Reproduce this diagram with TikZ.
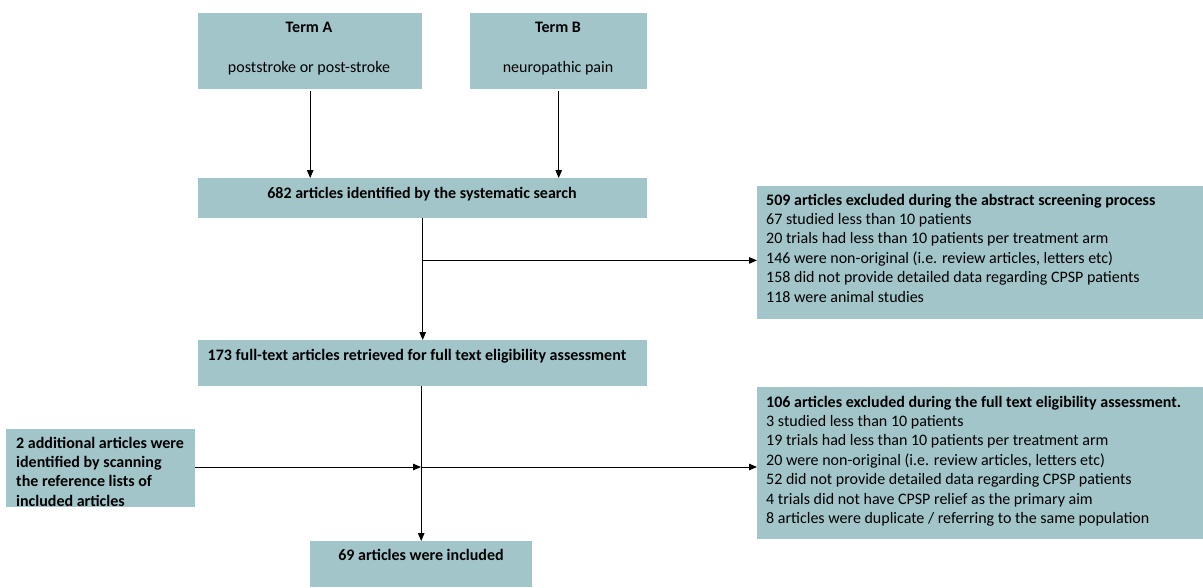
\documentclass[tikz,border=0pt]{standalone}
\usepackage{fontspec}
\setmainfont{Carlito}
\usetikzlibrary{arrows.meta,calc}
\definecolor{boxc}{RGB}{162,197,202}
\tikzset{
  box/.style={fill=boxc, draw=none, inner sep=0pt, anchor=north west},
  txt/.style={inner sep=0pt, font=\fontsize{16}{19.4}\selectfont},
  arr/.style={draw=black, line width=0.9pt, -{Triangle[length=8pt,width=6.5pt]}},
  ln/.style={draw=black, line width=0.9pt}
}
\begin{document}
\begin{tikzpicture}[x=1pt,y=-1pt]
\useasboundingbox (0,0) rectangle (1203,587);
% boxes
\node[box, minimum width=224, minimum height=76] (ta) at (198,13) {};
\node[box, minimum width=177, minimum height=76] (tb) at (470,13) {};
\node[box, minimum width=449, minimum height=40] (s682) at (198,178) {};
\node[box, minimum width=446, minimum height=133] (ex1) at (757,186) {};
\node[box, minimum width=449, minimum height=46] (f173) at (198,340) {};
\node[box, minimum width=189, minimum height=78] (add) at (6,429) {};
\node[box, minimum width=446, minimum height=152] (ex2) at (757,387) {};
\node[box, minimum width=222, minimum height=46] (inc) at (310,541) {};
% texts
\node[txt, anchor=base] (taT) at (309,32) {\bfseries Term A};
\node[txt, anchor=base] (taS) at (309,72) {poststroke or post-stroke};
\node[txt, anchor=base] (tbT) at (558,32) {\bfseries Term B};
\node[txt, anchor=base] (tbS) at (558,72) {neuropathic pain};
\node[txt, anchor=base] (t682) at (422,198) {\bfseries 682 articles identified by the systematic search};
\node[txt, anchor=base west] (tex1) at (766,205) {\begin{tabular}[t]{@{}l@{}}\textbf{509 articles excluded during the abstract screening process}\\
67 studied less than 10 patients\\
20 trials had less than 10 patients per treatment arm\\
146 were non-original (i.e. review articles, letters etc)\\
158 did not provide detailed data regarding CPSP patients\\
118 were animal studies\end{tabular}};
\node[txt, anchor=base] (t173) at (417,360) {\bfseries 173 full-text articles retrieved for full text eligibility assessment};
\node[txt, anchor=base west] (tadd) at (16,448) {\bfseries\begin{tabular}[t]{@{}l@{}}2 additional articles were\\identified by scanning\\the reference lists of\\included articles\end{tabular}};
\node[txt, anchor=base west] (tex2) at (766,407) {\begin{tabular}[t]{@{}l@{}}\textbf{106 articles excluded during the full text eligibility assessment.}\\
3 studied less than 10 patients\\
19 trials had less than 10 patients per treatment arm\\
20 were non-original (i.e. review articles, letters etc)\\
52 did not provide detailed data regarding CPSP patients\\
4 trials did not have CPSP relief as the primary aim\\
8 articles were duplicate / referring to the same population\end{tabular}};
\node[txt, anchor=base] (tinc) at (421,560) {\bfseries 69 articles were included};
% connectors
\draw[arr] ($(ta.south)+(0,2)$) -- (ta.south |- s682.north);
\draw[arr] ($(tb.south)+(0,2)$) -- (tb.south |- s682.north);
\draw[arr] (s682.south) -- (f173.north);
\coordinate (b1) at ($(s682.south)+(0,42)$);
\draw[arr] (b1) -- (b1 -| ex1.west);
\coordinate (j) at (421,467);
\draw[arr] (inc.north |- f173.south) -- (inc.north);
\draw[arr] (add.east |- j) -- (j);
\draw[arr] (j) -- (j -| ex2.west);
\end{tikzpicture}
\end{document}
